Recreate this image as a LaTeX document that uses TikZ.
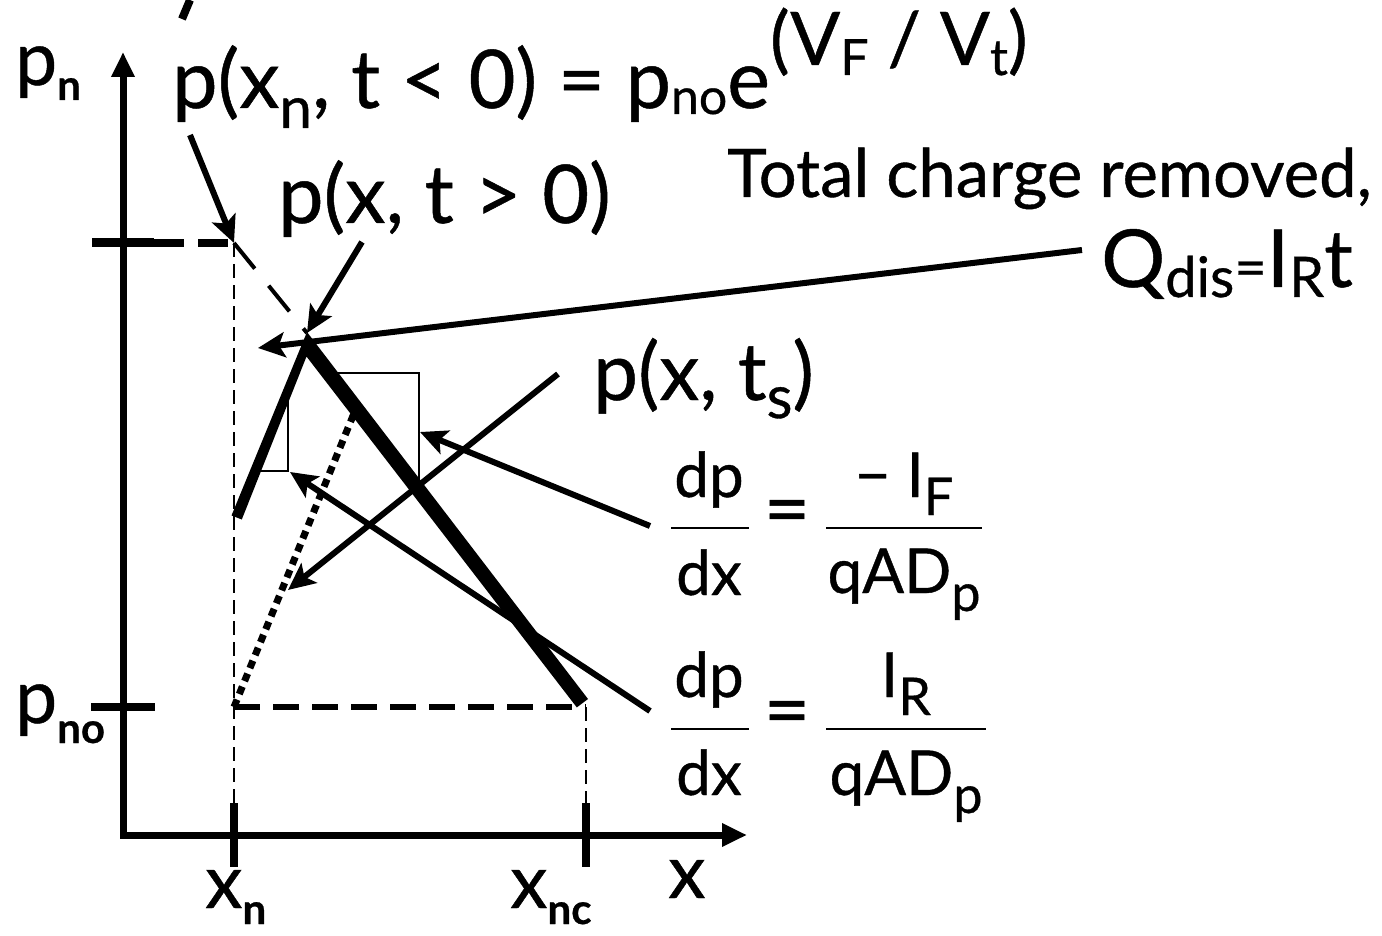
\documentclass[tikz,border=0pt]{standalone}
\usepackage{fontspec}
\setmainfont{Lato}[FakeBold=0.6]
\usetikzlibrary{arrows.meta}
\newcommand{\dn}[3]{\raisebox{-#1}{\fontsize{#2}{#2}\selectfont #3}}
\newcommand{\up}[3]{\raisebox{#1}{\fontsize{#2}{#2}\selectfont #3}}
\begin{document}
\begin{tikzpicture}[x=1pt,y=-1pt,
  txt/.style={inner sep=0pt, anchor=base west},
  ctxt/.style={inner sep=0pt, anchor=base},
  arr/.style={line width=6pt, -{Stealth[length=27pt,width=25pt,inset=6pt]}},
  axis/.style={line width=7pt, -{Triangle[length=25pt,width=22pt]}},
  tick/.style={line width=9pt},
  thindash/.style={line width=1.8pt, dash pattern=on 14pt off 7pt},
  thickdash/.style={line width=6pt, dash pattern=on 26pt off 13pt},
  thinline/.style={line width=2pt},
  fbar/.style={line width=1.6pt}]
\fill[white] (0,0) rectangle (1382,936);
\useasboundingbox (0,0) rectangle (1382,936);

% coordinates
\coordinate (O) at (123,838);
\coordinate (ytop) at (123,52);
\coordinate (xo) at (120,835);
\coordinate (xend) at (747,835);
\coordinate (pm) at (234,243);
\coordinate (pno) at (234,707);
\coordinate (xncp) at (586,707);
\coordinate (xnb) at (234,835);
\coordinate (xncb) at (586,835);
\coordinate (peak) at (307,333);
\coordinate (dtop) at (357,406);

% fragment at top edge
\draw[line width=8pt] (182,19) -- (190,0);

% axes
\draw[axis] (O) -- (ytop);
\draw[axis] (xo) -- (xend);
\draw[tick] (92,243) -- (154,243);
\draw[line width=8pt] (91,707) -- (155,707);
\draw[line width=8pt] (234,803) -- (234,867);
\draw[line width=8pt] (586,803) -- (586,867);

% guide lines
\draw[line width=8pt, dash pattern=on 30pt off 14pt] (154,243) -- (pm);
\draw[thindash] (pm) -- (xnb);
\draw[thindash] (xncp) -- (xncb);
\draw[thickdash] (pno) -- (xncp);
\draw[line width=4pt, dash pattern=on 33pt off 22pt] (pm) -- (peak);

% slope triangles
\draw[thinline] (254,471) -- (288,471) -- (288,398);
\draw[thinline] (334,373) -- (419,373) -- (419,482);

% dotted profile
\draw[line width=7pt, dash pattern=on 8pt off 6pt] (pno) -- (dtop);

% profile p(x,t>0)
\fill (307,332) -- (231.5,515.5) -- (241.8,519.5) -- (306.5,356.5) -- (576.8,707.4) -- (588,699) -- cycle;

% text
\node[txt] (f1) at (172,108) {\fontsize{81}{81}\selectfont p(x\dn{20pt}{58pt}{n}, t < 0) = p\dn{6pt}{50pt}{no}e\up{43pt}{74pt}{(V\dn{10pt}{50pt}{F} / V\dn{10pt}{50pt}{t})}};
\node[txt] (f2) at (278,223) {\fontsize{81}{81}\selectfont p(x, t > 0)};
\node[txt] (f3) at (727,197) {\fontsize{67}{67}\selectfont Total charge removed,};
\node[txt] (f4) at (1101,287) {\fontsize{80}{80}\selectfont Q\dn{10pt}{56pt}{dis}{\fontsize{56}{56}\selectfont =}I\dn{10pt}{56pt}{R}t};
\node[txt] (f5) at (593,400) {\fontsize{80}{80}\selectfont p(x, t\dn{18pt}{60pt}{s})};

\node[ctxt] (n1) at (709,497) {\fontsize{62}{62}\selectfont dp};
\node[ctxt] (d1) at (709,595) {\fontsize{62}{62}\selectfont dx};
\node[inner sep=0pt, anchor=mid] (e1) at (787,534) {\fontsize{80}{80}\selectfont =};
\node[ctxt] (n2) at (904,497) {\fontsize{62}{62}\selectfont − I\dn{18pt}{52pt}{F}};
\node[ctxt] (d2) at (904,593) {\fontsize{62}{62}\selectfont qAD\dn{18pt}{52pt}{p}};
\draw[fbar] (671,528) -- (749,528);
\draw[fbar] (826,528) -- (982,528);

\node[ctxt] (n3) at (709,697) {\fontsize{62}{62}\selectfont dp};
\node[ctxt] (d3) at (709,795) {\fontsize{62}{62}\selectfont dx};
\node[inner sep=0pt, anchor=mid] (e2) at (787,735) {\fontsize{80}{80}\selectfont =};
\node[ctxt] (n4) at (906,697) {\fontsize{62}{62}\selectfont I\dn{18pt}{52pt}{R}};
\node[ctxt] (d4) at (906,795) {\fontsize{62}{62}\selectfont qAD\dn{18pt}{52pt}{p}};
\draw[fbar] (671,729) -- (749,729);
\draw[fbar] (826,729) -- (986,729);

\node[txt] (lpn) at (15,85) {\fontsize{75}{75}\selectfont p\dn{15pt}{42pt}{\bfseries n}};
\node[txt] (lpno) at (15,723) {\fontsize{75}{75}\selectfont p\dn{20pt}{42pt}{\bfseries no}};
\node[txt] (lxn) at (205,908) {\fontsize{75}{75}\selectfont x\dn{16pt}{42pt}{\bfseries n}};
\node[txt] (lxnc) at (510,908) {\fontsize{75}{75}\selectfont x\dn{16pt}{42pt}{\bfseries nc}};
\node[txt] (lx) at (668,898) {\fontsize{75}{75}\selectfont x};

% arrows
\coordinate (a1s) at (190,135);
\coordinate (a2s) at (362,242);
\coordinate (qs) at (1082,250);
\coordinate (qt) at (258,348);
\coordinate (tss) at (558,374);
\coordinate (tst) at (288,590);
\coordinate (ifs) at (650,526);
\coordinate (ift) at (420,432);
\coordinate (irs) at (650,711);
\coordinate (irt) at (290,472);
\draw[arr] (a1s) -- (pm);
\draw[arr] (a2s) -- (peak);
\draw[arr] (qs) -- (qt);
\draw[arr] (tss) -- (tst);
\draw[arr] (ifs) -- (ift);
\draw[arr] (irs) -- (irt);
\end{tikzpicture}
\end{document}
